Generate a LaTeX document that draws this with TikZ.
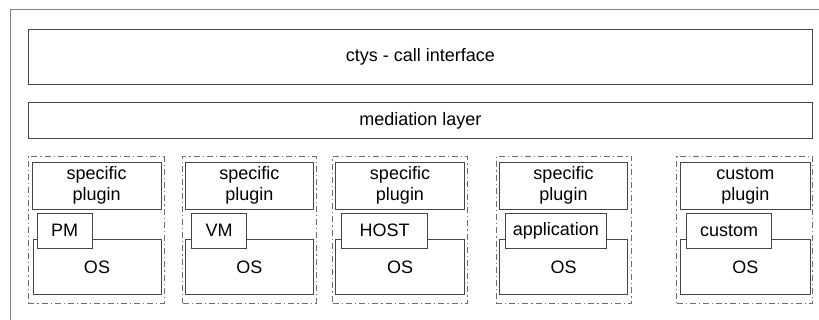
\documentclass[tikz,border=0pt]{standalone}
\usepackage{fontspec}
\setmainfont{Liberation Sans}
\definecolor{boxline}{RGB}{70,70,70}
\definecolor{frameline}{RGB}{128,128,128}
\definecolor{grpline}{RGB}{110,110,110}
\begin{document}
\begin{tikzpicture}[x=1pt,y=-1pt,
  every node/.style={inner sep=0pt,outer sep=0pt,font=\fontsize{18}{21}\selectfont,align=center},
  box/.style={draw=boxline,line width=0.9pt,fill=white},
  grp/.style={draw=grpline,line width=0.8pt,dash pattern=on 6pt off 3pt on 1.2pt off 3pt}]
\useasboundingbox (0,0) rectangle (819,320);
% outer frame (only top and left edges visible)
\coordinate (fbl) at (10,320);
\coordinate (ftl) at (10,9);
\coordinate (ftr) at (819,9);
\draw[frameline,line width=0.9pt] (fbl) -- (ftl) -- (ftr);
% top layers
\node[box,minimum width=784.7pt,minimum height=54.7pt] (cif) at (420.35,56.65) {ctys - call interface};
\node[box,minimum width=784.7pt,minimum height=35.6pt] (med) at (420.35,120.5) {mediation layer};
% group 1
\node[grp,minimum width=136pt,minimum height=146.3pt] (g1) at (96.3,229.85) {};
\node[box,minimum width=128.7pt,minimum height=46.7pt] (p1) at (96.65,185.65) {specific\\plugin};
\node[box,minimum width=128pt,minimum height=54.8pt] (os1) at (97,266.9) {\raisebox{-3pt}{OS}};
\node[box,minimum width=54.7pt,minimum height=35pt] (pm) at (64.65,230.8) {PM};
% group 2
\node[grp,minimum width=133.3pt,minimum height=146.3pt] (g2) at (249.35,229.85) {};
\node[box,minimum width=127.3pt,minimum height=46.7pt] (p2) at (249.35,185.65) {specific\\plugin};
\node[box,minimum width=127.3pt,minimum height=54.8pt] (os2) at (249.35,266.9) {\raisebox{-3pt}{OS}};
\node[box,minimum width=55pt,minimum height=35pt] (vm) at (219.2,230.8) {VM};
% group 3
\node[grp,minimum width=134.6pt,minimum height=146.3pt] (g3) at (400,229.85) {};
\node[box,minimum width=128.6pt,minimum height=46.7pt] (p3) at (400,185.65) {specific\\plugin};
\node[box,minimum width=128.6pt,minimum height=54.8pt] (os3) at (400,266.9) {\raisebox{-3pt}{OS}};
\node[box,minimum width=85.6pt,minimum height=35pt] (host) at (384.5,230.8) {HOST};
% group 4
\node[grp,minimum width=135.7pt,minimum height=146.3pt] (g4) at (563.85,229.85) {};
\node[box,minimum width=128.4pt,minimum height=46.7pt] (p4) at (563.5,185.65) {specific\\plugin};
\node[box,minimum width=128.4pt,minimum height=54.8pt] (os4) at (563.5,266.9) {\raisebox{-3pt}{OS}};
\node[box,minimum width=101.7pt,minimum height=35pt] (app) at (555.85,230.8) {application};
% group 5
\node[grp,minimum width=136pt,minimum height=146.3pt] (g5) at (744.7,229.85) {};
\node[box,minimum width=130.7pt,minimum height=46.7pt] (p5) at (745.35,185.65) {custom\\plugin};
\node[box,minimum width=130.7pt,minimum height=54.8pt] (os5) at (745.35,266.9) {\raisebox{-3pt}{OS}};
\node[box,minimum width=85pt,minimum height=35pt] (cust) at (729.2,230.8) {custom};
\end{tikzpicture}
\end{document}
